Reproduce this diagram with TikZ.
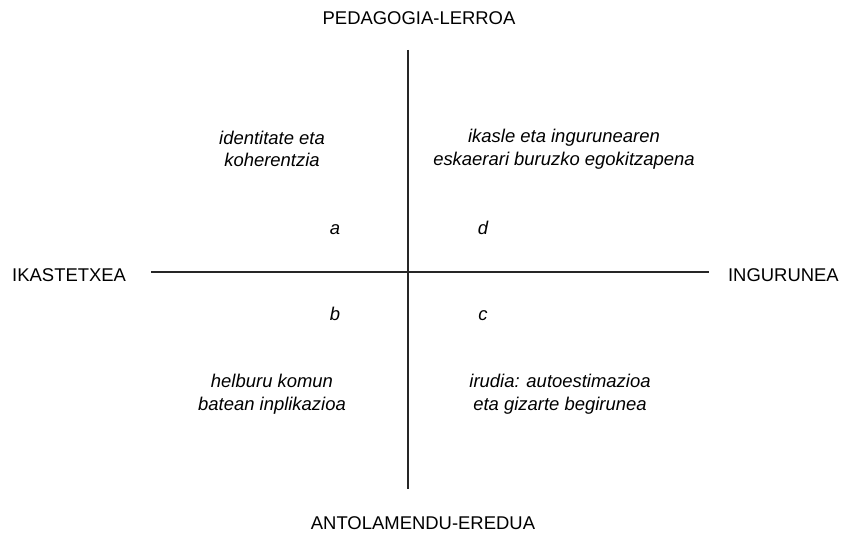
\documentclass[tikz,border=0pt]{standalone}
\usepackage{fontspec}
\setmainfont{Liberation Sans}
\usetikzlibrary{positioning}

\tikzset{
	axislabel/.style={font=\fontsize{10.5}{12.5}\selectfont},
	quadtext/.style={font=\fontsize{10.5}{12.9}\selectfont\itshape, align=center},
	quadletter/.style={font=\fontsize{10.5}{12.5}\selectfont\itshape, anchor=base},
	axis/.style={line width=0.8pt, black!85},
}

\begin{document}
\begin{tikzpicture}[x=0.02cm, y=-0.02cm]
	\useasboundingbox (0,0) rectangle (848,536);

	\coordinate (o) at (408,272);
	\coordinate (top) at (408,50);
	\coordinate (bottom) at (408,489);
	\coordinate (left) at (151,272);
	\coordinate (right) at (709,272);

	\node [axislabel] (ped) at (419,18) {PEDAGOGIA-LERROA};
	\node [axislabel] (ant) at (423,523) {ANTOLAMENDU-EREDUA};
	\node [axislabel, anchor=west] (ika) at (6,275) {IKASTETXEA};
	\node [axislabel, anchor=east] (ing) at (845,275) {INGURUNEA};

	\node [quadtext] (q1) at (272,149) {identitate eta\\koherentzia};
	\node [quadtext] (q2) at (564,149) {ikasle eta ingurunearen\\eskaerari buruzko egokitzapena};
	\node [quadtext] (q3) at (272,394) {helburu komun\\batean inplikazioa};
	\node [quadtext] (q4) at (560,394) {irudia: autoestimazioa\\eta gizarte begirunea};

	\node [quadletter] (a) at (335,235) {a};
	\node [quadletter] (d) at (483,235) {d};
	\node [quadletter] (b) at (335,321) {b};
	\node [quadletter] (c) at (483,321) {c};

	\draw [axis] (top) -- (bottom);
	\draw [axis] (left) -- (right);

\end{tikzpicture}
\end{document}
